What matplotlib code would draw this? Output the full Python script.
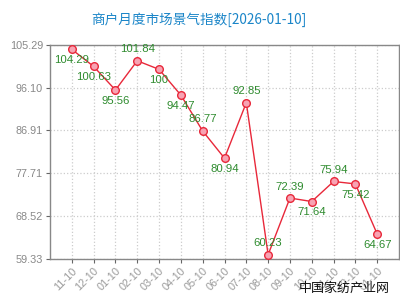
import matplotlib
matplotlib.use("Agg")
import matplotlib.pyplot as plt

plt.rcParams['font.family'] = ['Noto Sans CJK SC', 'DejaVu Sans']

# data
months = ["11-10", "12-10", "01-10", "02-10", "03-10", "04-10", "05-10", "06-10",
          "07-10", "08-10", "09-10", "10-10", "11-10", "12-10", "01-10"]
values = [104.29, 100.63, 95.56, 101.84, 100, 94.47, 86.77, 80.94,
          92.85, 60.23, 72.39, 71.64, 75.94, 75.42, 64.67]
label_pos = ["below", "below", "below", "above", "below", "below", "above", "below",
             "above", "above", "above", "below", "above", "below", "below"]
yticks = [59.33, 68.52, 77.71, 86.91, 96.10, 105.29]

fig = plt.figure(figsize=(4, 3), dpi=100)
ax = fig.add_axes([0.125, 0.137, 0.8725, 0.714])

x = list(range(len(values)))
ax.plot(x, values, color="#e8283a", lw=1, marker="o", ms=5.5,
        mfc="#f7a3b3", mec="#e8283a", mew=1, zorder=3)

# value labels
for i, v in enumerate(values):
    dy = 8.3 if label_pos[i] == "above" else -7.8
    ax.annotate(f"{v:g}", (i, v), xytext=(0, dy), textcoords="offset points",
                ha="center", va="center", fontsize=8.2, color="#2e8b2e",
                family="Liberation Sans", zorder=4)

ax.set_xlim(-1, len(values))
ax.set_ylim(yticks[0], yticks[-1])
ax.set_xticks(x)
ax.set_xticklabels(months, rotation=45, ha="right", rotation_mode="anchor",
                   fontsize=7.8, color="#999999", family="Liberation Sans")
ax.set_yticks(yticks)
ax.set_yticklabels([f"{t:.2f}" for t in yticks], fontsize=7.8,
                   color="#888888", family="Liberation Sans")
ax.tick_params(axis="both", length=3, color="#666666", pad=2)

ax.grid(True, color="#cccccc", linestyle=":", lw=0.9)
for s in ax.spines.values():
    s.set_color("#888888")
    s.set_linewidth(1)

fig.text(0.498, 0.933, "商户月度市场景气指数[2026-01-10]", ha="center", va="center",
         fontsize=9.8, color="#1a85c8")
fig.text(0.975, 0.04, "中国家纺产业网", ha="right", va="center",
         fontsize=9.4, color="#111111")

plt.savefig("out.png", dpi=100)
